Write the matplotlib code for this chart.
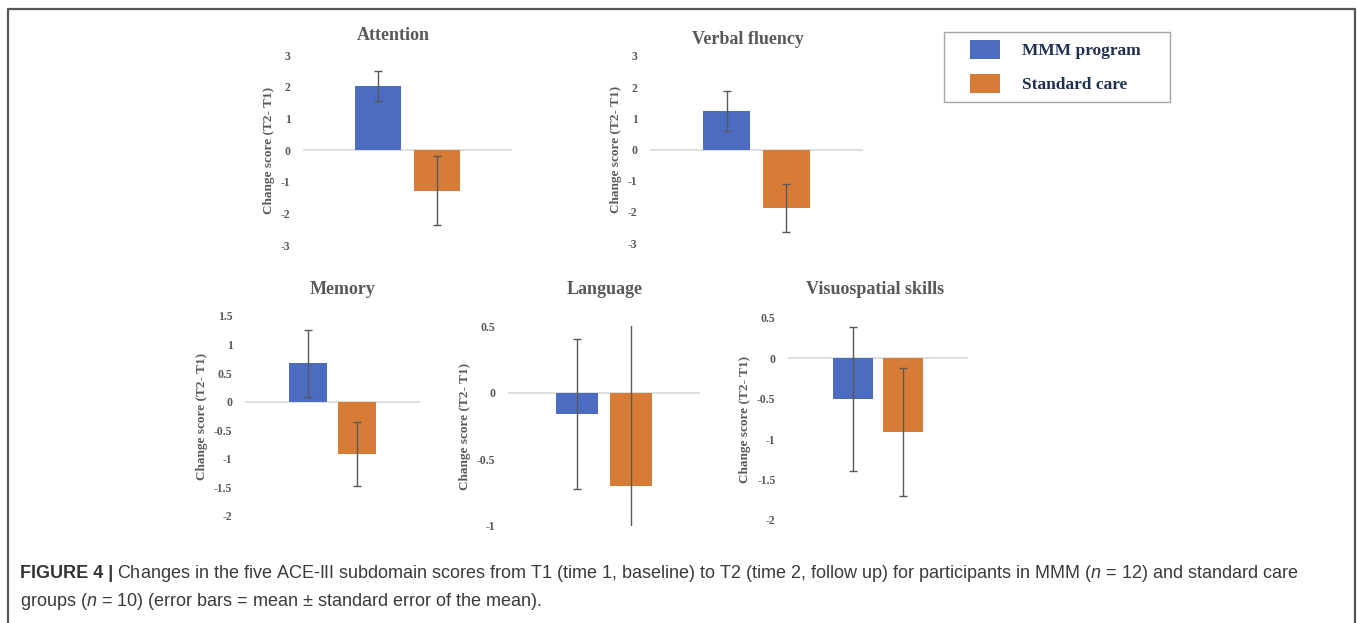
import matplotlib
matplotlib.use('Agg')
import matplotlib.pyplot as plt
from matplotlib.lines import Line2D
from matplotlib.patches import Rectangle

# ---- data ----
groups = ['MMM program', 'Standard care']
domains = ['Attention', 'Verbal fluency', 'Memory', 'Language', 'Visuospatial skills']
mmm_mean = [2.02, 1.23, 0.67, -0.16, -0.50]
mmm_sem = [0.48, 0.65, 0.58, 0.56, 0.89]
std_mean = [-1.28, -1.89, -0.92, -0.70, -0.91]
std_sem = [1.09, 0.77, 0.56, 1.25, 0.79]
y_limits = [(-3, 3), (-3, 3), (-2, 1.5), (-1, 0.5), (-2, 0.5)]
y_ticks = [[3, 2, 1, 0, -1, -2, -3],
           [3, 2, 1, 0, -1, -2, -3],
           [1.5, 1, 0.5, 0, -0.5, -1, -1.5, -2],
           [0.5, 0, -0.5, -1],
           [0.5, 0, -0.5, -1, -1.5, -2]]
tick_labels = [['3', '2', '1', '0', '-1', '-2', '-3'],
               ['3', '2', '1', '0', '-1', '-2', '-3'],
               ['1.5', '1', '0.5', '0', '-0.5', '-1', '-1.5', '-2'],
               ['0.5', '0', '-0.5', '-1'],
               ['0.5', '0', '-0.5', '-1', '-1.5', '-2']]
ylabel = 'Change score (T2- T1)'
caption_bold = 'FIGURE 4 |'
caption_1 = ('Changes in the five ACE-III subdomain scores from T1 (time 1, baseline) to T2 '
             '(time 2, follow up) for participants in MMM ($n$ = 12) and standard care')
caption_2 = 'groups ($n$ = 10) (error bars = mean \u00b1 standard error of the mean).'

W, H = 1357, 623
BLUE = '#4B6CC0'
ORANGE = '#D77C36'
GREY = '#595959'
SERIF = ['Liberation Serif', 'DejaVu Serif']

plt.rcParams['mathtext.fontset'] = 'custom'
plt.rcParams['mathtext.it'] = 'Liberation Sans:italic'
plt.rcParams['mathtext.rm'] = 'Liberation Sans'

fig = plt.figure(figsize=(W / 100, H / 100), dpi=100)


def px_axes(x0, x1, ytop, ybot):
    return fig.add_axes([x0 / W, 1 - ybot / H, (x1 - x0) / W, (ybot - ytop) / H])


# panel boxes in pixels: x0, x1, y at ymax, y at ymin ; title centre
panels = [(303, 512, 55, 245), (650, 863, 56, 243),
          (245, 420, 316, 516), (508, 700, 326, 526), (788, 968, 318, 520)]
titles_at = [(393, 35), (748, 40), (343, 289), (605, 289), (875, 290)]

bars = None
for i, name in enumerate(domains):
    ax = px_axes(*panels[i])
    b1 = ax.bar(0.36, mmm_mean[i], width=0.22, color=BLUE, label=groups[0], zorder=2)
    b2 = ax.bar(0.64, std_mean[i], width=0.22, color=ORANGE, label=groups[1], zorder=2)
    ax.errorbar([0.36, 0.64], [mmm_mean[i], std_mean[i]], yerr=[mmm_sem[i], std_sem[i]],
                fmt='none', ecolor=GREY, elinewidth=1, capsize=3, capthick=1, zorder=3)
    ax.axhline(0, color='#D9D9D9', lw=1.2, zorder=1)
    ax.set_xlim(0, 1)
    ax.set_ylim(*y_limits[i])
    ax.set_yticks(y_ticks[i])
    ax.set_yticklabels(tick_labels[i], fontfamily=SERIF, fontweight='bold',
                       fontsize=8.5, color=GREY)
    ax.tick_params(axis='y', length=0, pad=9)
    ax.set_xticks([])
    for s in ax.spines.values():
        s.set_visible(False)
    ax.patch.set_alpha(0)
    ax.set_ylabel(ylabel, fontfamily=SERIF, fontweight='bold', fontsize=9.5,
                  color=GREY, labelpad=4)
    tx, ty = titles_at[i]
    fig.text(tx / W, 1 - ty / H, name, ha='center', va='center', fontfamily=SERIF,
             fontweight='bold', fontsize=13, color=GREY)
    if bars is None:
        bars = [b1, b2]

# legend
fig.add_artist(Rectangle((944 / W, 1 - 102 / H), 226 / W, 70 / H, transform=fig.transFigure,
                         fill=False, edgecolor='#A6A6A6', lw=1))
fig.legend(bars, groups, loc='upper left', bbox_to_anchor=(970 / W, 1 - 40 / H),
           frameon=False, borderpad=0, borderaxespad=0, handlelength=1.7,
           handleheight=1.3, handletextpad=1.3, labelspacing=0.85,
           prop={'family': SERIF, 'weight': 'bold', 'size': 12.5}, labelcolor='#1F3050')

# frame around the figure (no bottom edge)
fc = '#555555'
fig.add_artist(Line2D([8 / W, 8 / W, 1355 / W, 1355 / W], [0, 1 - 9 / H, 1 - 9 / H, 0],
                      transform=fig.transFigure, color=fc, lw=1.6))

# caption
cap_col = '#333333'
t = fig.text(20 / W, 1 - 573 / H, caption_bold, ha='left', va='center',
             fontfamily='Liberation Sans', fontweight='bold', fontsize=13, color=cap_col)
fig.canvas.draw()
bb = t.get_window_extent()
fig.text((bb.x1 + 4) / W, 1 - 573 / H, caption_1, ha='left', va='center',
         fontfamily='Liberation Sans', fontsize=13, color='#3A3A3A')
fig.text(20 / W, 1 - 601 / H, caption_2, ha='left', va='center',
         fontfamily='Liberation Sans', fontsize=13, color='#3A3A3A')

fig.savefig('out.png', dpi=100)
